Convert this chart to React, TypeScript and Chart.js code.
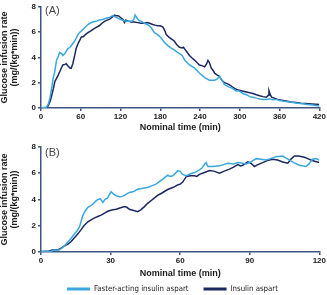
import React, { useEffect, useRef } from "react";
import { Chart, registerables } from "chart.js";
Chart.register(...registerables);

// ---------- DATA ----------
const SERIES_NAMES = ["Faster-acting insulin aspart", "Insulin aspart"];
const PANEL_LABELS = ["(A)", "(B)"];
const X_TITLE = "Nominal time (min)";
const Y_TITLE = ["Glucose infusion rate", "(mg/(kg*min))"];
const X_MAX_A = 420;
const X_STEP_A = 60;
const X_MAX_B = 120;
const X_STEP_B = 30;
const Y_MAX = 8;
const Y_STEP = 2;

// Panel A: [time (min), GIR]
const fasterA: [number, number][] = [
  [0, 0], [8, 0.05], [11, 0.3], [13.5, 0.8], [15.5, 1.4], [18.5, 2.4], [20.5, 2.8], [23.5, 3.8],
  [25.6, 4.0], [28, 4.4], [31, 4.3], [33, 4.15], [36, 4.3], [40.6, 4.7], [44, 4.8], [48, 5.1],
  [52, 5.4], [55.7, 5.8], [59, 6.0], [63, 6.2], [67, 6.4], [70.7, 6.6], [74, 6.7], [78, 6.8],
  [83, 6.85], [88, 6.95], [93, 7.0], [98, 7.1], [103, 7.15], [108, 7.3], [112, 7.2], [116, 7.1],
  [120, 7.0], [126, 6.9], [131, 6.85], [137, 6.85], [140, 7.0], [142, 7.35], [145, 7.1], [148.5, 6.9],
  [152, 6.85], [156, 6.7], [160, 6.6], [163.5, 6.5], [167, 6.3], [171, 5.95], [176, 5.8], [181, 5.55],
  [186, 5.2], [191, 4.95], [196, 4.75], [201, 4.6], [206, 4.4], [209, 4.3], [213, 4.15], [217, 3.77],
  [224, 3.4], [232, 3.15], [239, 2.77], [247, 2.4], [254, 2.2], [262, 2.2], [266, 2.3], [269, 2.5],
  [273, 2.2], [277, 1.85], [284, 1.65], [289, 1.55], [294.5, 1.35], [299, 1.35], [304.5, 1.15],
  [310, 1.05], [315, 0.9], [320, 0.85], [325, 0.78], [330, 0.72], [335, 0.68], [340, 0.68],
  [345, 0.72], [350, 0.65], [355, 0.68], [360, 0.6], [365, 0.55], [372, 0.5], [380, 0.43],
  [387, 0.38], [395, 0.33], [402, 0.28], [410, 0.23], [415, 0.2], [420, 0.15],
];
const aspartA: [number, number][] = [
  [0, 0], [8, 0.02], [11, 0.2], [13.5, 0.5], [15.5, 0.85], [18.5, 1.5], [21, 2.1], [23, 2.3],
  [26, 2.6], [28.6, 2.9], [31, 3.2], [33, 3.4], [36, 3.45], [38, 3.5], [41, 3.3], [44, 3.15],
  [45.6, 3.15], [48, 3.5], [51, 4.2], [53, 4.7], [56, 5.1], [58, 5.3], [60.7, 5.6], [64, 5.65],
  [67, 5.8], [70.7, 5.95], [74, 6.05], [78, 6.2], [80.8, 6.3], [84, 6.4], [88, 6.5], [92, 6.7],
  [95.8, 6.85], [100, 6.95], [104, 7.05], [108, 7.2], [110.9, 7.35], [113, 7.3], [116, 7.3],
  [118, 7.25], [121, 7.1], [124, 7.0], [126, 6.75], [128, 6.95], [132, 6.85], [137, 6.8],
  [141, 6.8], [146, 6.75], [151, 6.7], [156, 6.7], [160, 6.75], [164, 6.7], [168.6, 6.6],
  [172, 6.55], [176, 6.5], [180, 6.5], [184, 6.4], [187, 6.1], [189, 5.8], [193, 5.6], [197, 5.45],
  [201, 5.3], [205, 5.0], [209, 4.8], [213, 4.75], [215, 4.8], [217, 4.65], [220, 4.45], [224, 4.15],
  [228, 3.95], [232, 3.77], [236, 3.55], [239, 3.4], [243, 3.35], [247, 3.25], [250, 3.5],
  [252, 3.77], [254, 3.6], [257, 3.15], [260, 2.95], [262, 2.75], [266, 2.6], [269, 2.5], [273, 2.2],
  [277, 2.0], [280, 1.95], [284, 1.85], [288, 1.7], [292, 1.55], [296, 1.45], [299.5, 1.4],
  [305, 1.33], [310, 1.27], [315, 1.2], [320, 1.15], [325, 1.05], [330, 0.97], [335, 0.9],
  [340, 0.85], [343, 1.0], [344, 1.37], [346, 1.05], [348, 0.85], [352, 0.78], [357, 0.68],
  [363, 0.62], [370, 0.55], [377, 0.48], [385, 0.43], [392, 0.38], [400, 0.35], [408, 0.32],
  [415, 0.3], [420, 0.28],
];

// Panel B: [time (min), GIR]
const fasterB: [number, number][] = [
  [0, 0.03], [4.5, 0.05], [5.2, 0.15], [8, 0.17], [8.7, 0.25], [10, 0.45], [11.6, 0.75], [13, 1.05],
  [14.5, 1.4], [15.5, 1.6], [16.6, 1.9], [18, 2.77], [19, 3.1], [20.2, 3.4], [21.3, 3.5], [22.4, 3.65],
  [23.5, 3.85], [24.5, 4.0], [25.6, 4.05], [26.7, 3.77], [27.6, 4.0], [28.6, 4.1], [30.2, 4.58],
  [31.3, 4.4], [32.4, 4.28], [34, 4.2], [35.3, 4.23], [36.8, 4.4], [38.1, 4.53], [40, 4.6],
  [41.7, 4.78], [44, 4.85], [46, 4.9], [48, 5.05], [49.6, 5.16], [51, 5.35], [52.5, 5.54],
  [54.6, 5.84], [55.6, 5.75], [56.8, 5.8], [58, 6.0], [58.9, 6.17], [60, 6.15], [61, 5.9],
  [62.7, 5.8], [64.5, 5.95], [66.2, 6.04], [68, 6.2], [69.5, 6.4], [70.5, 6.67], [71.2, 6.8],
  [72, 6.5], [74, 6.5], [77, 6.55], [80.5, 6.75], [83, 6.7], [84.9, 6.8], [87, 6.75], [88.5, 6.7],
  [90.5, 6.85], [92.8, 7.1], [95, 7.05], [97, 7.0], [99, 7.1], [101.3, 7.25], [104.2, 7.3],
  [105.5, 7.15], [107, 7.0], [109, 6.8], [111.4, 6.6], [114.3, 6.5], [115.5, 6.7], [117.1, 7.05],
  [118.5, 7.1], [120, 7.0],
];
const aspartB: [number, number][] = [
  [0, 0.03], [3, 0.05], [5.2, 0.17], [7.5, 0.18], [8.7, 0.3], [10, 0.45], [11.6, 0.6], [13, 0.8],
  [14.5, 1.1], [16, 1.4], [17.3, 1.7], [18.5, 2.0], [20.2, 2.3], [21.6, 2.45], [23.1, 2.6],
  [24.5, 2.7], [25.9, 2.8], [27.4, 2.95], [28.8, 3.1], [30.5, 3.2], [32.4, 3.25], [34, 3.35],
  [36, 3.45], [37, 3.4], [38.1, 3.25], [40, 3.15], [41.7, 3.07], [43, 3.2], [44.6, 3.45], [46, 3.7],
  [47.4, 3.9], [48.8, 4.1], [50.3, 4.3], [51.8, 4.45], [53.2, 4.6], [54.6, 4.75], [56, 4.85],
  [57.5, 4.95], [58.9, 5.1], [60, 5.16], [61, 5.3], [62.7, 5.75], [64.5, 5.8], [66.2, 5.8],
  [67.2, 5.75], [68.3, 5.9], [70.5, 6.05], [72.6, 6.2], [74.5, 6.15], [77, 6.0], [79, 6.15],
  [81.3, 6.3], [83, 6.45], [84.9, 6.64], [86, 6.55], [87, 6.6], [89.2, 6.85], [90.5, 6.75],
  [92, 6.5], [93.5, 6.65], [95.6, 6.8], [97.5, 6.95], [99.9, 7.05], [102, 7.0], [104.2, 6.85],
  [106.4, 6.75], [108, 7.1], [109.3, 7.3], [111, 7.3], [113.6, 7.2], [115, 7.1], [116.4, 7.0],
  [118, 6.9], [120, 6.8],
];

// ---------- STYLE ----------
const LIGHT = "#3aa8df";
const DARK = "#1b2760";
const AXIS = "#3f5682";
const TEXT = "#1a1a1a";
const SANS = '"Liberation Sans", Arial, sans-serif';
const NARROW = '"Liberation Sans Narrow", "DejaVu Sans Condensed", "Liberation Sans", sans-serif';

function toXY(arr: [number, number][]) {
  return arr.map(([x, y]) => ({ x, y }));
}

function makeConfig(opts: {
  faster: [number, number][];
  aspart: [number, number][];
  xMax: number;
  xStep: number;
  label: string;
  labelDy: number;
  xAxisHeight: number;
  titlePadBottom: number;
  padTop: number;
  legend: boolean;
}): any {
  const panelLabel = {
    id: "panelLabel",
    afterDraw(chart: any) {
      const { ctx, chartArea } = chart;
      ctx.save();
      ctx.font = `11px ${SANS}`;
      ctx.fillStyle = "#444";
      ctx.textBaseline = "middle";
      ctx.textAlign = "left";
      ctx.fillText(opts.label, chartArea.left + 4, chartArea.top + opts.labelDy);
      ctx.restore();
    },
  };
  // move the legend box (it is clipped to its own box) so that it sits under the axis title
  const legendShift = {
    id: "legendShift",
    afterLayout(chart: any) {
      const lg = chart.legend;
      if (!lg || !opts.legend) return;
      lg.left += 12.5;
      lg.right += 12.5;
      lg.top -= 7;
      lg.bottom = chart.height;
      lg.height = lg.bottom - lg.top;
    },
  };
  return {
    type: "line",
    data: {
      datasets: [
        {
          label: SERIES_NAMES[0],
          data: toXY(opts.faster),
          borderColor: LIGHT,
          backgroundColor: LIGHT,
          borderWidth: 1.5,
          pointRadius: 0,
          tension: 0,
        },
        {
          label: SERIES_NAMES[1],
          data: toXY(opts.aspart),
          borderColor: DARK,
          backgroundColor: DARK,
          borderWidth: 1.5,
          pointRadius: 0,
          tension: 0,
        },
      ],
    },
    options: {
      responsive: false,
      animation: false,
      devicePixelRatio: 1,
      layout: { padding: { top: opts.padTop, right: 7, bottom: 0, left: 0 } },
      plugins: {
        tooltip: { enabled: false },
        title: { display: false },
        legend: {
          display: opts.legend,
          position: "bottom",
          maxHeight: 18,
          labels: {
            boxWidth: 23,
            boxHeight: 3,
            padding: 15,
            color: TEXT,
            font: { size: 7.8, family: NARROW },
            generateLabels: (chart: any) =>
              (Chart as any).defaults.plugins.legend.labels
                .generateLabels(chart)
                .map((l: any) => ({ ...l, fillStyle: l.strokeStyle, lineWidth: 0 })),
          },
        },
      },
      scales: {
        x: {
          type: "linear",
          min: 0,
          max: opts.xMax,
          afterFit: (s: any) => {
            s.height = opts.xAxisHeight;
          },
          border: { display: true, color: AXIS, width: 1.5 },
          grid: { display: true, drawOnChartArea: false, drawTicks: true, tickLength: 3, color: AXIS, lineWidth: 1.5 },
          ticks: {
            stepSize: opts.xStep,
            padding: 1,
            color: TEXT,
            maxRotation: 0,
            font: { size: 8, weight: "bold", family: SANS },
          },
          title: {
            display: true,
            text: X_TITLE,
            color: TEXT,
            padding: { top: 0, bottom: opts.titlePadBottom },
            font: { size: 9, weight: "bold", family: SANS, lineHeight: 1.2 },
          },
        },
        y: {
          min: 0,
          max: Y_MAX,
          afterFit: (s: any) => {
            s.width = 41;
          },
          border: { display: true, color: AXIS, width: 1.5 },
          grid: { display: true, drawOnChartArea: false, drawTicks: true, tickLength: 3, color: AXIS, lineWidth: 1.5 },
          ticks: {
            stepSize: Y_STEP,
            padding: 2,
            color: TEXT,
            font: { size: 8, weight: "bold", family: SANS },
          },
          title: {
            display: true,
            text: Y_TITLE,
            color: TEXT,
            padding: { top: 0, bottom: 0 },
            font: { size: 9, weight: "bold", family: SANS, lineHeight: 1.1 },
          },
        },
      },
    },
    plugins: [panelLabel, legendShift],
  };
}

function Panel(props: { top: number; height: number; config: any }) {
  const ref = useRef<HTMLCanvasElement | null>(null);
  useEffect(() => {
    if (!ref.current) return;
    const chart = new Chart(ref.current, props.config);
    return () => chart.destroy();
  }, []);
  return (
    <canvas
      ref={ref}
      width={327}
      height={props.height}
      style={{ position: "absolute", left: 0, top: props.top, width: 327, height: props.height, display: "block" }}
    />
  );
}

export default function App() {
  const cfgA = makeConfig({
    faster: fasterA,
    aspart: aspartA,
    xMax: X_MAX_A,
    xStep: X_STEP_A,
    label: PANEL_LABELS[0],
    labelDy: 4.5,
    xAxisHeight: 28,
    titlePadBottom: 3.1,
    padTop: 3,
    legend: false,
  });
  const cfgB = makeConfig({
    faster: fasterB,
    aspart: aspartB,
    xMax: X_MAX_B,
    xStep: X_STEP_B,
    label: PANEL_LABELS[1],
    labelDy: 6,
    xAxisHeight: 25,
    titlePadBottom: -2.4,
    padTop: 6,
    legend: true,
  });
  return (
    <div style={{ position: "fixed", left: 0, top: 0, width: 327, height: 295, overflow: "hidden", background: "#fff" }}>
      <Panel top={0} height={136} config={cfgA} />
      <Panel top={140} height={155} config={cfgB} />
    </div>
  );
}
